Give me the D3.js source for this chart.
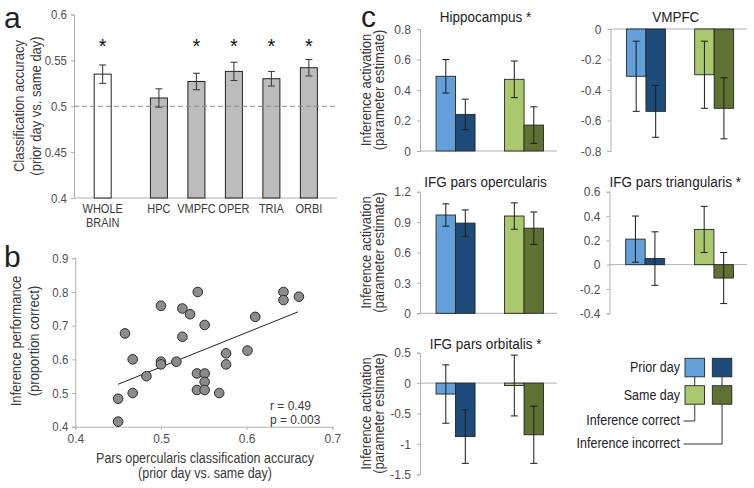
<!DOCTYPE html>
<html><head><meta charset="utf-8">
<script src="https://cdn.jsdelivr.net/npm/d3@7"></script>
<style>
body{margin:0;background:#fff}
svg{display:block}
text{font-family:"Liberation Sans",Arial,Helvetica,sans-serif}
</style>
</head><body>
<svg id="chart" width="754" height="488"></svg>
<script>
// ---------- Panel a data ----------
const regionsA = ["WHOLE BRAIN", "HPC", "VMPFC", "OPER", "TRIA", "ORBI"];
const accuracyA = [0.535, 0.509, 0.527, 0.538, 0.530, 0.542];
const errorA = [0.010, 0.010, 0.009, 0.010, 0.008, 0.009];
const signifA = [true, false, true, true, true, true];
const ticksA = [0.4, 0.45, 0.5, 0.55, 0.6];
const chanceA = 0.5;

// ---------- Panel b data ----------
const operAccuracy = [0.450, 0.450, 0.467, 0.458, 0.467, 0.483, 0.500, 0.500, 0.518, 0.500,
  0.525, 0.534, 0.525, 0.543, 0.551, 0.542, 0.551, 0.551, 0.542, 0.551,
  0.568, 0.576, 0.576, 0.601, 0.610, 0.643, 0.643, 0.661];
const inferencePerf = [0.415, 0.483, 0.500, 0.677, 0.600, 0.550, 0.593, 0.585, 0.593, 0.759,
  0.751, 0.734, 0.667, 0.800, 0.702, 0.558, 0.558, 0.533, 0.509, 0.509,
  0.500, 0.618, 0.585, 0.626, 0.726, 0.800, 0.776, 0.786];
const fitX = [0.45, 0.66];
const fitY = [0.526, 0.741];
const ticksBX = [0.4, 0.5, 0.6, 0.7];
const ticksBY = [0.4, 0.5, 0.6, 0.7, 0.8, 0.9];
const statsB = ["r = 0.49", "p = 0.003"];

// ---------- Panel c data ----------
// order: prior-correct, prior-incorrect, same-correct, same-incorrect
const conditions = ["Prior day", "Same day"];
const outcomes = ["Inference correct", "Inference incorrect"];
const hpcMean = [0.49, 0.24, 0.47, 0.17];
const hpcErr = [0.11, 0.10, 0.12, 0.12];
const hpcTicks = [0, 0.2, 0.4, 0.6, 0.8];
const vmpfcMean = [-0.31, -0.54, -0.30, -0.52];
const vmpfcErr = [0.23, 0.17, 0.22, 0.20];
const vmpfcTicks = [-0.8, -0.6, -0.4, -0.2, 0];
const operMean = [0.97, 0.89, 0.96, 0.84];
const operErr = [0.11, 0.13, 0.13, 0.16];
const operTicks = [0, 0.3, 0.6, 0.9, 1.2];
const triaMean = [0.21, 0.05, 0.29, -0.11];
const triaErr = [0.19, 0.22, 0.19, 0.21];
const triaTicks = [-0.4, -0.2, 0, 0.2, 0.4, 0.6];
const orbiMean = [-0.18, -0.88, -0.04, -0.85];
const orbiErr = [0.48, 0.44, 0.50, 0.47];
const orbiTicks = [-1.5, -1, -0.5, 0, 0.5];
const barColors = ["#63a0d9", "#1e4c7a", "#abc86d", "#5f7232"];

// ---------- helpers ----------
const VS = 1.1;
const svg = d3.select("#chart");
svg.append("rect").attr("width", 754).attr("height", 488).attr("fill", "#fff");

function lab(g, x, y, s, o = {}) {
  return g.append("text")
    .attr("transform", `translate(${x},${y})${o.rot ? ` rotate(${o.rot})` : ""} scale(1,${o.vs ?? VS})`)
    .attr("dy", "0.35em")
    .attr("text-anchor", o.anchor || "middle")
    .attr("font-size", o.size || 12.5)
    .attr("fill", o.fill || "#3a3a3a")
    .text(s);
}
function styleAxis(g, size) {
  g.select(".domain").attr("stroke", "#b0b0b0");
  g.selectAll(".tick line").attr("stroke", "#b0b0b0");
  g.selectAll(".tick text").attr("fill", "#505050").attr("font-size", size || 11.5)
    .attr("font-family", '"Liberation Sans",Arial,sans-serif')
    .attr("transform", `scale(1,${VS})`);
}
const fmt = d => String(+d.toFixed(2));

// ---------- Panel a ----------
{
  const g = svg.append("g");
  const y = d3.scaleLinear().domain([0.4, 0.6]).range([198, 14.5]);
  const posA = [0, 1.5, 2.5, 3.5, 4.5, 5.5];
  const x = d3.scaleLinear().domain([-0.765, 6.25]).range([74, 337]);
  const bw = 17;
  const ax = g.append("g").attr("transform", "translate(74,0)")
    .call(d3.axisLeft(y).tickValues(ticksA).tickSize(3).tickPadding(4).tickFormat(fmt));
  styleAxis(ax);
  g.append("line").attr("x1", 74).attr("x2", 337).attr("y1", y(0.4)).attr("y2", y(0.4)).attr("stroke", "#b0b0b0");
  regionsA.forEach((r, i) => {
    const cx = x(posA[i]);
    g.append("rect").attr("x", cx - bw / 2).attr("width", bw)
      .attr("y", y(accuracyA[i])).attr("height", y(0.4) - y(accuracyA[i]))
      .attr("fill", i === 0 ? "#fff" : "#bcbcbc").attr("stroke", "#222").attr("stroke-width", 1);
  });
  g.append("line").attr("x1", 74).attr("x2", 337).attr("y1", y(chanceA)).attr("y2", y(chanceA))
    .attr("stroke", "#8a8a8a").attr("stroke-dasharray", "5,3").attr("stroke-width", 1);
  regionsA.forEach((r, i) => {
    const cx = x(posA[i]);
    const lo = y(accuracyA[i] - errorA[i]), hi = y(accuracyA[i] + errorA[i]);
    g.append("line").attr("x1", cx).attr("x2", cx).attr("y1", lo).attr("y2", hi).attr("stroke", "#333");
    [lo, hi].forEach(v => g.append("line").attr("x1", cx - 3.5).attr("x2", cx + 3.5).attr("y1", v).attr("y2", v).attr("stroke", "#333"));
    if (signifA[i]) lab(g, cx, 45.5, "*", { size: 20, vs: 1, fill: "#111" });
    const parts = r.split(" ");
    parts.forEach((p, k) => lab(g, cx, 208.5 + k * 14, p, { size: 11 }));
  });
  lab(g, 19, 106, "Classification accuracy", { rot: -90, size: 13 });
  lab(g, 36, 106, "(prior day vs. same day)", { rot: -90, size: 13 });
  lab(g, 4, 17, "a", { size: 30, anchor: "start", vs: 1, fill: "#222" });
}

// ---------- Panel b ----------
{
  const g = svg.append("g");
  const x = d3.scaleLinear().domain([0.4, 0.7]).range([75.3, 332.3]);
  const y = d3.scaleLinear().domain([0.4, 0.9]).range([426.7, 258.3]);
  const ay = g.append("g").attr("transform", "translate(75.3,0)")
    .call(d3.axisLeft(y).tickValues(ticksBY).tickSize(3).tickPadding(4).tickFormat(fmt));
  styleAxis(ay);
  const axb = g.append("g").attr("transform", "translate(0,426.7)")
    .call(d3.axisBottom(x).tickValues(ticksBX).tickSize(3).tickPadding(3).tickFormat(fmt));
  styleAxis(axb, 12);
  g.append("line").attr("x1", x(fitX[0])).attr("x2", x(fitX[1])).attr("y1", y(fitY[0])).attr("y2", y(fitY[1]))
    .attr("stroke", "#222").attr("stroke-width", 1);
  operAccuracy.forEach((v, i) => {
    g.append("circle").attr("cx", x(v)).attr("cy", y(inferencePerf[i])).attr("r", 4.8)
      .attr("fill", "#8c8c8c").attr("stroke", "#2a2a2a").attr("stroke-width", 1);
  });
  statsB.forEach((s, k) => lab(g, 270, 405.5 + k * 14, s, { anchor: "start", size: 12 }));
  lab(g, 205, 458, "Pars opercularis classification accuracy", { size: 12.5 });
  lab(g, 205, 473, "(prior day vs. same day)", { size: 12.5 });
  lab(g, 16, 341, "Inference performance", { rot: -90, size: 13 });
  lab(g, 34, 341, "(proportion correct)", { rot: -90, size: 13 });
  lab(g, 4, 256, "b", { size: 30, anchor: "start", vs: 1, fill: "#222" });
}

// ---------- Panel c ----------
function drawSub(f, title, means, errs, ticks) {
  const g = svg.append("g");
  const y = d3.scaleLinear().domain([ticks[0], ticks[ticks.length - 1]]).range([f.yBot, f.yTop]);
  const outer = d3.scaleBand().domain(conditions).range([f.x0 + 1.3, f.x1 + 1.3]);
  const inner = d3.scaleBand().domain(outcomes).range([0, 39]);
  const ax = g.append("g").attr("transform", `translate(${f.x0},0)`)
    .call(d3.axisLeft(y).tickValues(ticks).tickSize(3).tickPadding(6).tickFormat(fmt));
  styleAxis(ax, 12);
  g.append("line").attr("x1", f.x0).attr("x2", f.x1).attr("y1", y(0)).attr("y2", y(0)).attr("stroke", "#b0b0b0");
  means.forEach((m, i) => {
    const bx = outer(conditions[i >> 1]) + outer.bandwidth() / 2 - 19.5 + inner(outcomes[i & 1]);
    const w = inner.bandwidth();
    g.append("rect").attr("x", bx).attr("width", w)
      .attr("y", Math.min(y(m), y(0))).attr("height", Math.abs(y(m) - y(0)))
      .attr("fill", barColors[i]).attr("stroke", "#23262a").attr("stroke-width", 0.9);
  });
  means.forEach((m, i) => {
    const bx = outer(conditions[i >> 1]) + outer.bandwidth() / 2 - 19.5 + inner(outcomes[i & 1]);
    const cx = bx + inner.bandwidth() / 2;
    const lo = y(m - errs[i]), hi = y(m + errs[i]);
    g.append("line").attr("x1", cx).attr("x2", cx).attr("y1", lo).attr("y2", hi).attr("stroke", "#1a1a1a");
    [lo, hi].forEach(v => g.append("line").attr("x1", cx - 3.5).attr("x2", cx + 3.5).attr("y1", v).attr("y2", v).attr("stroke", "#1a1a1a"));
  });
  lab(g, (f.x0 + f.x1) / 2 - 3, f.titleY, title, { size: 13.5, fill: "#222" });
  if (f.left) {
    const cy = (f.yTop + f.yBot) / 2;
    lab(g, 366, cy, "Inference activation", { rot: -90, size: 13 });
    lab(g, 379, cy, "(parameter estimate)", { rot: -90, size: 13 });
  }
}
drawSub({ x0: 420, x1: 557, yTop: 29, yBot: 151, titleY: 17, left: true }, "Hippocampus *", hpcMean, hpcErr, hpcTicks);
drawSub({ x0: 610.5, x1: 747, yTop: 29, yBot: 151, titleY: 17 }, "VMPFC", vmpfcMean, vmpfcErr, vmpfcTicks);
drawSub({ x0: 420, x1: 557, yTop: 191.7, yBot: 313.3, titleY: 181.5, left: true }, "IFG pars opercularis", operMean, operErr, operTicks);
drawSub({ x0: 609.5, x1: 747, yTop: 191.7, yBot: 313.3, titleY: 181.5 }, "IFG pars triangularis *", triaMean, triaErr, triaTicks);
drawSub({ x0: 420, x1: 557, yTop: 352.7, yBot: 474.3, titleY: 344, left: true }, "IFG pars orbitalis *", orbiMean, orbiErr, orbiTicks);
lab(svg, 361, 16, "c", { size: 30, anchor: "start", vs: 1, fill: "#222" });

// ---------- Legend ----------
{
  const g = svg.append("g");
  const colX = [685, 712.3], rowY = [358.3, 385.7], sw = 19.5, sh = 18.5;
  const lc = "#333";
  colX.forEach(cx => {
    g.append("line").attr("x1", cx + sw / 2).attr("x2", cx + sw / 2)
      .attr("y1", rowY[0] + sh).attr("y2", rowY[1]).attr("stroke", lc);
  });
  const outY = [421, 444];
  outcomes.forEach((o, k) => {
    const cx = colX[k] + sw / 2;
    g.append("path").attr("d", `M683.5,${outY[k]}H${cx}V${rowY[1] + sh}`)
      .attr("fill", "none").attr("stroke", lc);
    lab(g, 680, outY[k] - 1, o, { anchor: "end", size: 12.5, fill: "#222" });
  });
  conditions.forEach((c, r) => {
    lab(g, 680, rowY[r] + sh / 2, c, { anchor: "end", size: 12.5, fill: "#222" });
    colX.forEach((cx, k) => {
      g.append("rect").attr("x", cx).attr("y", rowY[r]).attr("width", sw).attr("height", sh)
        .attr("fill", barColors[r * 2 + k]).attr("stroke", "#23262a").attr("stroke-width", 0.9);
    });
  });
}
</script>
</body></html>
